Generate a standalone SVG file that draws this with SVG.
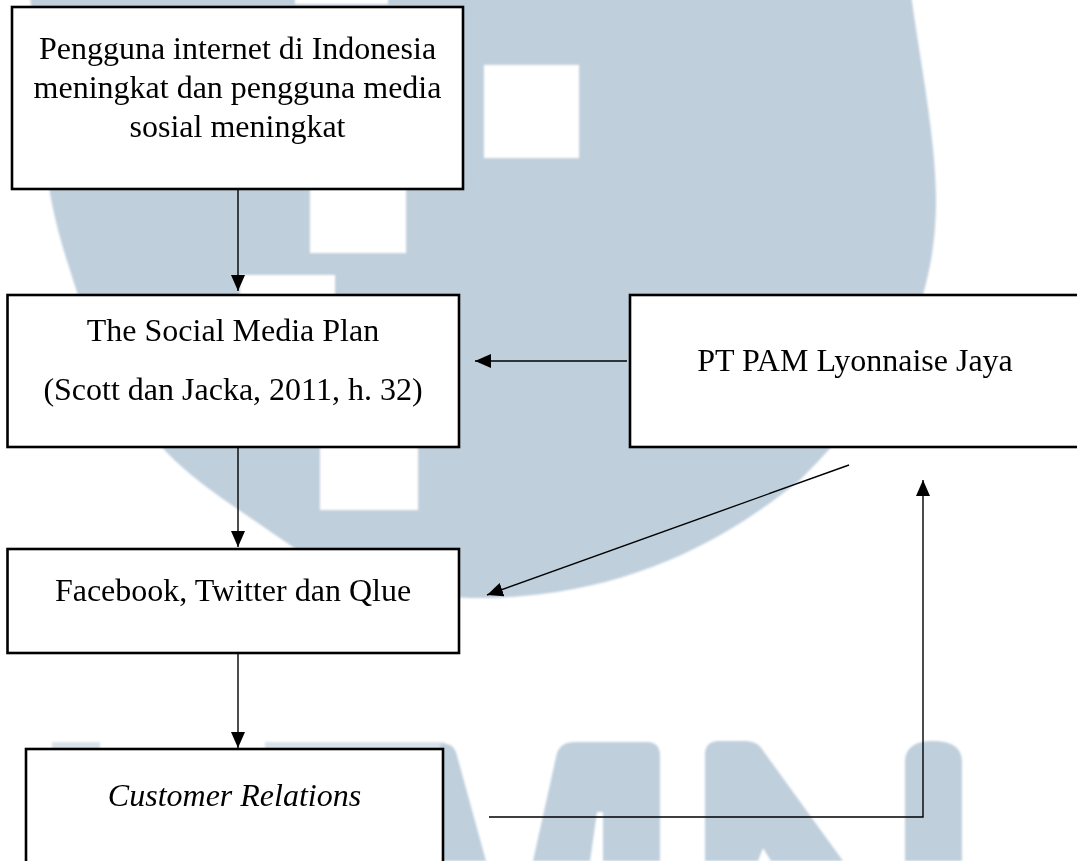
<svg xmlns="http://www.w3.org/2000/svg" width="1077" height="861" viewBox="0 0 1077 861">
  <defs>
    <style>
      .wm { fill: #bfcfdc; }
      .hole { fill: #ffffff; }
      .box { fill: #ffffff; stroke: #000000; stroke-width: 2.6; }
      .lbl { font-family: "Liberation Serif", "Times New Roman", serif; font-size: 32px; fill: #000000; text-anchor: middle; }
      .it { font-style: italic; }
      .conn { fill: none; stroke: #000000; stroke-width: 1.4; }
    </style>
    <marker id="arrow" markerUnits="userSpaceOnUse" markerWidth="17" markerHeight="15" refX="16" refY="7" orient="auto">
      <path d="M0,0 L16,7 L0,14 Z" fill="#000000"/>
    </marker>
    <filter id="soft" x="-5%" y="-5%" width="110%" height="110%">
      <feGaussianBlur stdDeviation="1.2"/>
    </filter>
  </defs>

  <rect x="0" y="0" width="1077" height="861" fill="#ffffff"/>

  <!-- watermark -->
  <g id="watermark" filter="url(#soft)">
    <path class="wm" d="M30,-5 L911,-5 C920,60 936,140 936,200 C936,330 870,410 800,480 C720,545 620,597 480,598 C380,598 320,565 290,545 C240,510 190,480 160,445 C110,380 85,320 70,270 C60,240 52,210 48,180 Z"/>
    <rect class="hole" x="295" y="-5" width="93" height="9"/>
    <rect class="hole" x="484" y="65" width="95" height="93"/>
    <rect class="hole" x="310" y="185" width="96" height="68"/>
    <rect class="hole" x="240" y="275" width="95" height="22"/>
    <rect class="hole" x="320" y="445" width="98" height="65"/>
    <!-- U -->
    <rect class="wm" x="52" y="742" width="48" height="8" opacity="0.6"/>
    <rect class="wm" x="265" y="742" width="180" height="8" opacity="0.6"/>
    <path class="wm" d="M440,750 L440,744 Q452,742 456,752 L486,861 L440,861 Z"/>
    <!-- M -->
    <path class="wm" d="M533,861 L557,753 Q561,742 575,742 L647,742 Q660,742 660,756 L660,861 L603,861 L603,812 L597,812 L590,861 Z"/>
    <path class="wm" d="M705,861 L705,755 Q705,741 719,741 L746,741 Q758,741 764,752 L843,861 L771,861 L763,848 L758,861 Z"/>
    <!-- I -->
    <path class="wm" d="M905,861 L905,762 Q905,741 933,741 Q962,741 962,762 L962,861 Z"/>
  </g>

  <!-- connectors -->
  <g id="connectors">
    <line class="conn" x1="238" y1="189" x2="238" y2="291" marker-end="url(#arrow)"/>
    <line class="conn" x1="238" y1="447" x2="238" y2="547" marker-end="url(#arrow)"/>
    <line class="conn" x1="238" y1="653" x2="238" y2="748" marker-end="url(#arrow)"/>
    <line class="conn" x1="627" y1="361" x2="475" y2="361" marker-end="url(#arrow)"/>
    <line class="conn" x1="849" y1="465" x2="487" y2="595" marker-end="url(#arrow)"/>
    <polyline class="conn" points="489,817 923,817 923,480" marker-end="url(#arrow)"/>
  </g>

  <g id="node-internet">
    <rect class="box" x="12" y="7" width="451" height="182"/>
    <text class="lbl" x="237.5" y="59">Pengguna internet di Indonesia</text>
    <text class="lbl" x="237.5" y="98">meningkat dan pengguna media</text>
    <text class="lbl" x="237.5" y="137">sosial meningkat</text>
  </g>

  <g id="node-plan">
    <rect class="box" x="7.5" y="295" width="451.5" height="152"/>
    <text class="lbl" x="233" y="341">The Social Media Plan</text>
    <text class="lbl" x="233" y="400">(Scott dan Jacka, 2011, h. 32)</text>
  </g>

  <g id="node-pam">
    <rect class="box" x="630" y="295" width="452" height="152"/>
    <text class="lbl" x="855" y="371">PT PAM Lyonnaise Jaya</text>
  </g>

  <g id="node-platforms">
    <rect class="box" x="7.5" y="549" width="451.5" height="104"/>
    <text class="lbl" x="233" y="601">Facebook, Twitter dan Qlue</text>
  </g>

  <g id="node-cr">
    <rect class="box" x="26" y="749" width="417" height="125"/>
    <text class="lbl it" x="234.5" y="806">Customer Relations</text>
  </g>
</svg>
